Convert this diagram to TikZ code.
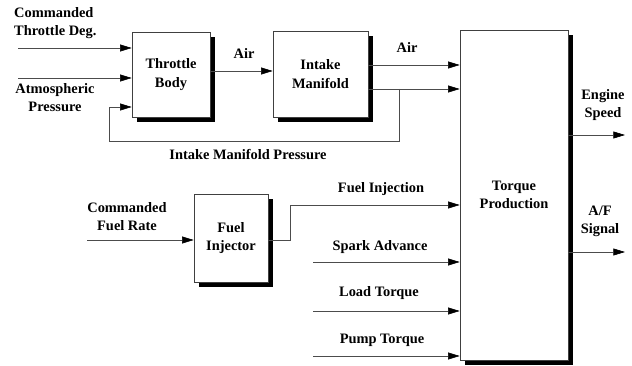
\documentclass[tikz,border=0pt]{standalone}
\usepackage{fontspec}
\setmainfont{Liberation Serif}
\usepackage{tikz}
\usetikzlibrary{arrows.meta,shadows}

\begin{document}
\begin{tikzpicture}[
    x=0.3mm, y=-0.3mm,
    >={Triangle[length=3.5mm,width=2.1mm,color=black]},
    block/.style={
        rectangle,
        draw=black!75,
        line width=0.5pt,
        fill=white,
        drop shadow={shadow xshift=1.5mm,shadow yshift=-1.5mm,opacity=1,fill=black},
        font=\bfseries\fontsize{12.3}{15.5}\selectfont,
        align=center
    },
    lbl/.style={
        font=\bfseries\fontsize{12.3}{15.5}\selectfont,
        align=center,
        inner sep=0pt
    },
    signal/.style={
        ->,
        draw=black!70,
        line width=0.5pt
    }
]

\useasboundingbox (0,0) rectangle (632,366);

% Blocks
\node[block, minimum width=23.4mm, minimum height=25.5mm] (throttle) at (171,74.5) {Throttle\\Body};
\node[block, minimum width=28.5mm, minimum height=25.8mm] (manifold) at (320.5,74) {Intake\\Manifold};
\node[block, minimum width=32.4mm, minimum height=99mm] (torque) at (514,195) {Torque\\Production};
\node[block, minimum width=22.2mm, minimum height=26.4mm] (injector) at (231,238) {Fuel\\Injector};

% Free ends of the signals
\coordinate (cmdthrottle) at (18,48);
\coordinate (atmos) at (18,78);
\coordinate (cmdfuel) at (87,240);
\coordinate (spark) at (313,262);
\coordinate (load) at (313,311);
\coordinate (pump) at (313,356);
\coordinate (speed) at (625,135);
\coordinate (afsig) at (625,252);
\coordinate (tap) at (399,89);

% Throttle inputs
\draw[signal] (cmdthrottle) -- (cmdthrottle -| throttle.west);
\draw[signal] (atmos) -- (atmos -| throttle.west);
\node[lbl, anchor=west, align=left] (cmdthrottlelbl) at (14,23) {Commanded\\Throttle Deg.};
\node[lbl] (atmoslbl) at (55,98) {Atmospheric\\Pressure};

% Air path
\draw[signal] (throttle.east |- 0,71) -- (manifold.west |- 0,71);
\node[lbl] (air1lbl) at (244,54) {Air};
\draw[signal] (manifold.east |- 0,65) -- (torque.west |- 0,65);
\node[lbl] (air2lbl) at (407,48) {Air};
\draw[signal] (manifold.east |- tap) -- (torque.west |- tap);

% Manifold pressure feedback
\draw[signal] (tap) |- (109,141) |- (throttle.west |- 0,107);
\node[lbl] (maplbl) at (248,155) {Intake Manifold Pressure};

% Fuel path
\draw[signal] (cmdfuel) -- (cmdfuel -| injector.west);
\node[lbl] (cmdfuellbl) at (127,217) {Commanded\\Fuel Rate};
\draw[signal] (injector.east |- cmdfuel) -- (290,240) |- (torque.west |- 0,205);
\node[lbl] (fuelinjlbl) at (381,189) {Fuel Injection};

% Other torque inputs
\draw[signal] (spark) -- (spark -| torque.west);
\node[lbl] (sparklbl) at (380,247) {Spark Advance};
\draw[signal] (load) -- (load -| torque.west);
\node[lbl] (loadlbl) at (379,293) {Load Torque};
\draw[signal] (pump) -- (pump -| torque.west);
\node[lbl] (pumplbl) at (382,340) {Pump Torque};

% Outputs
\draw[signal] (torque.east |- speed) -- (speed);
\node[lbl] (speedlbl) at (603,105) {Engine\\Speed};
\draw[signal] (torque.east |- afsig) -- (afsig);
\node[lbl] (aflbl) at (600,221) {A/F\\Signal};

\end{tikzpicture}
\end{document}
